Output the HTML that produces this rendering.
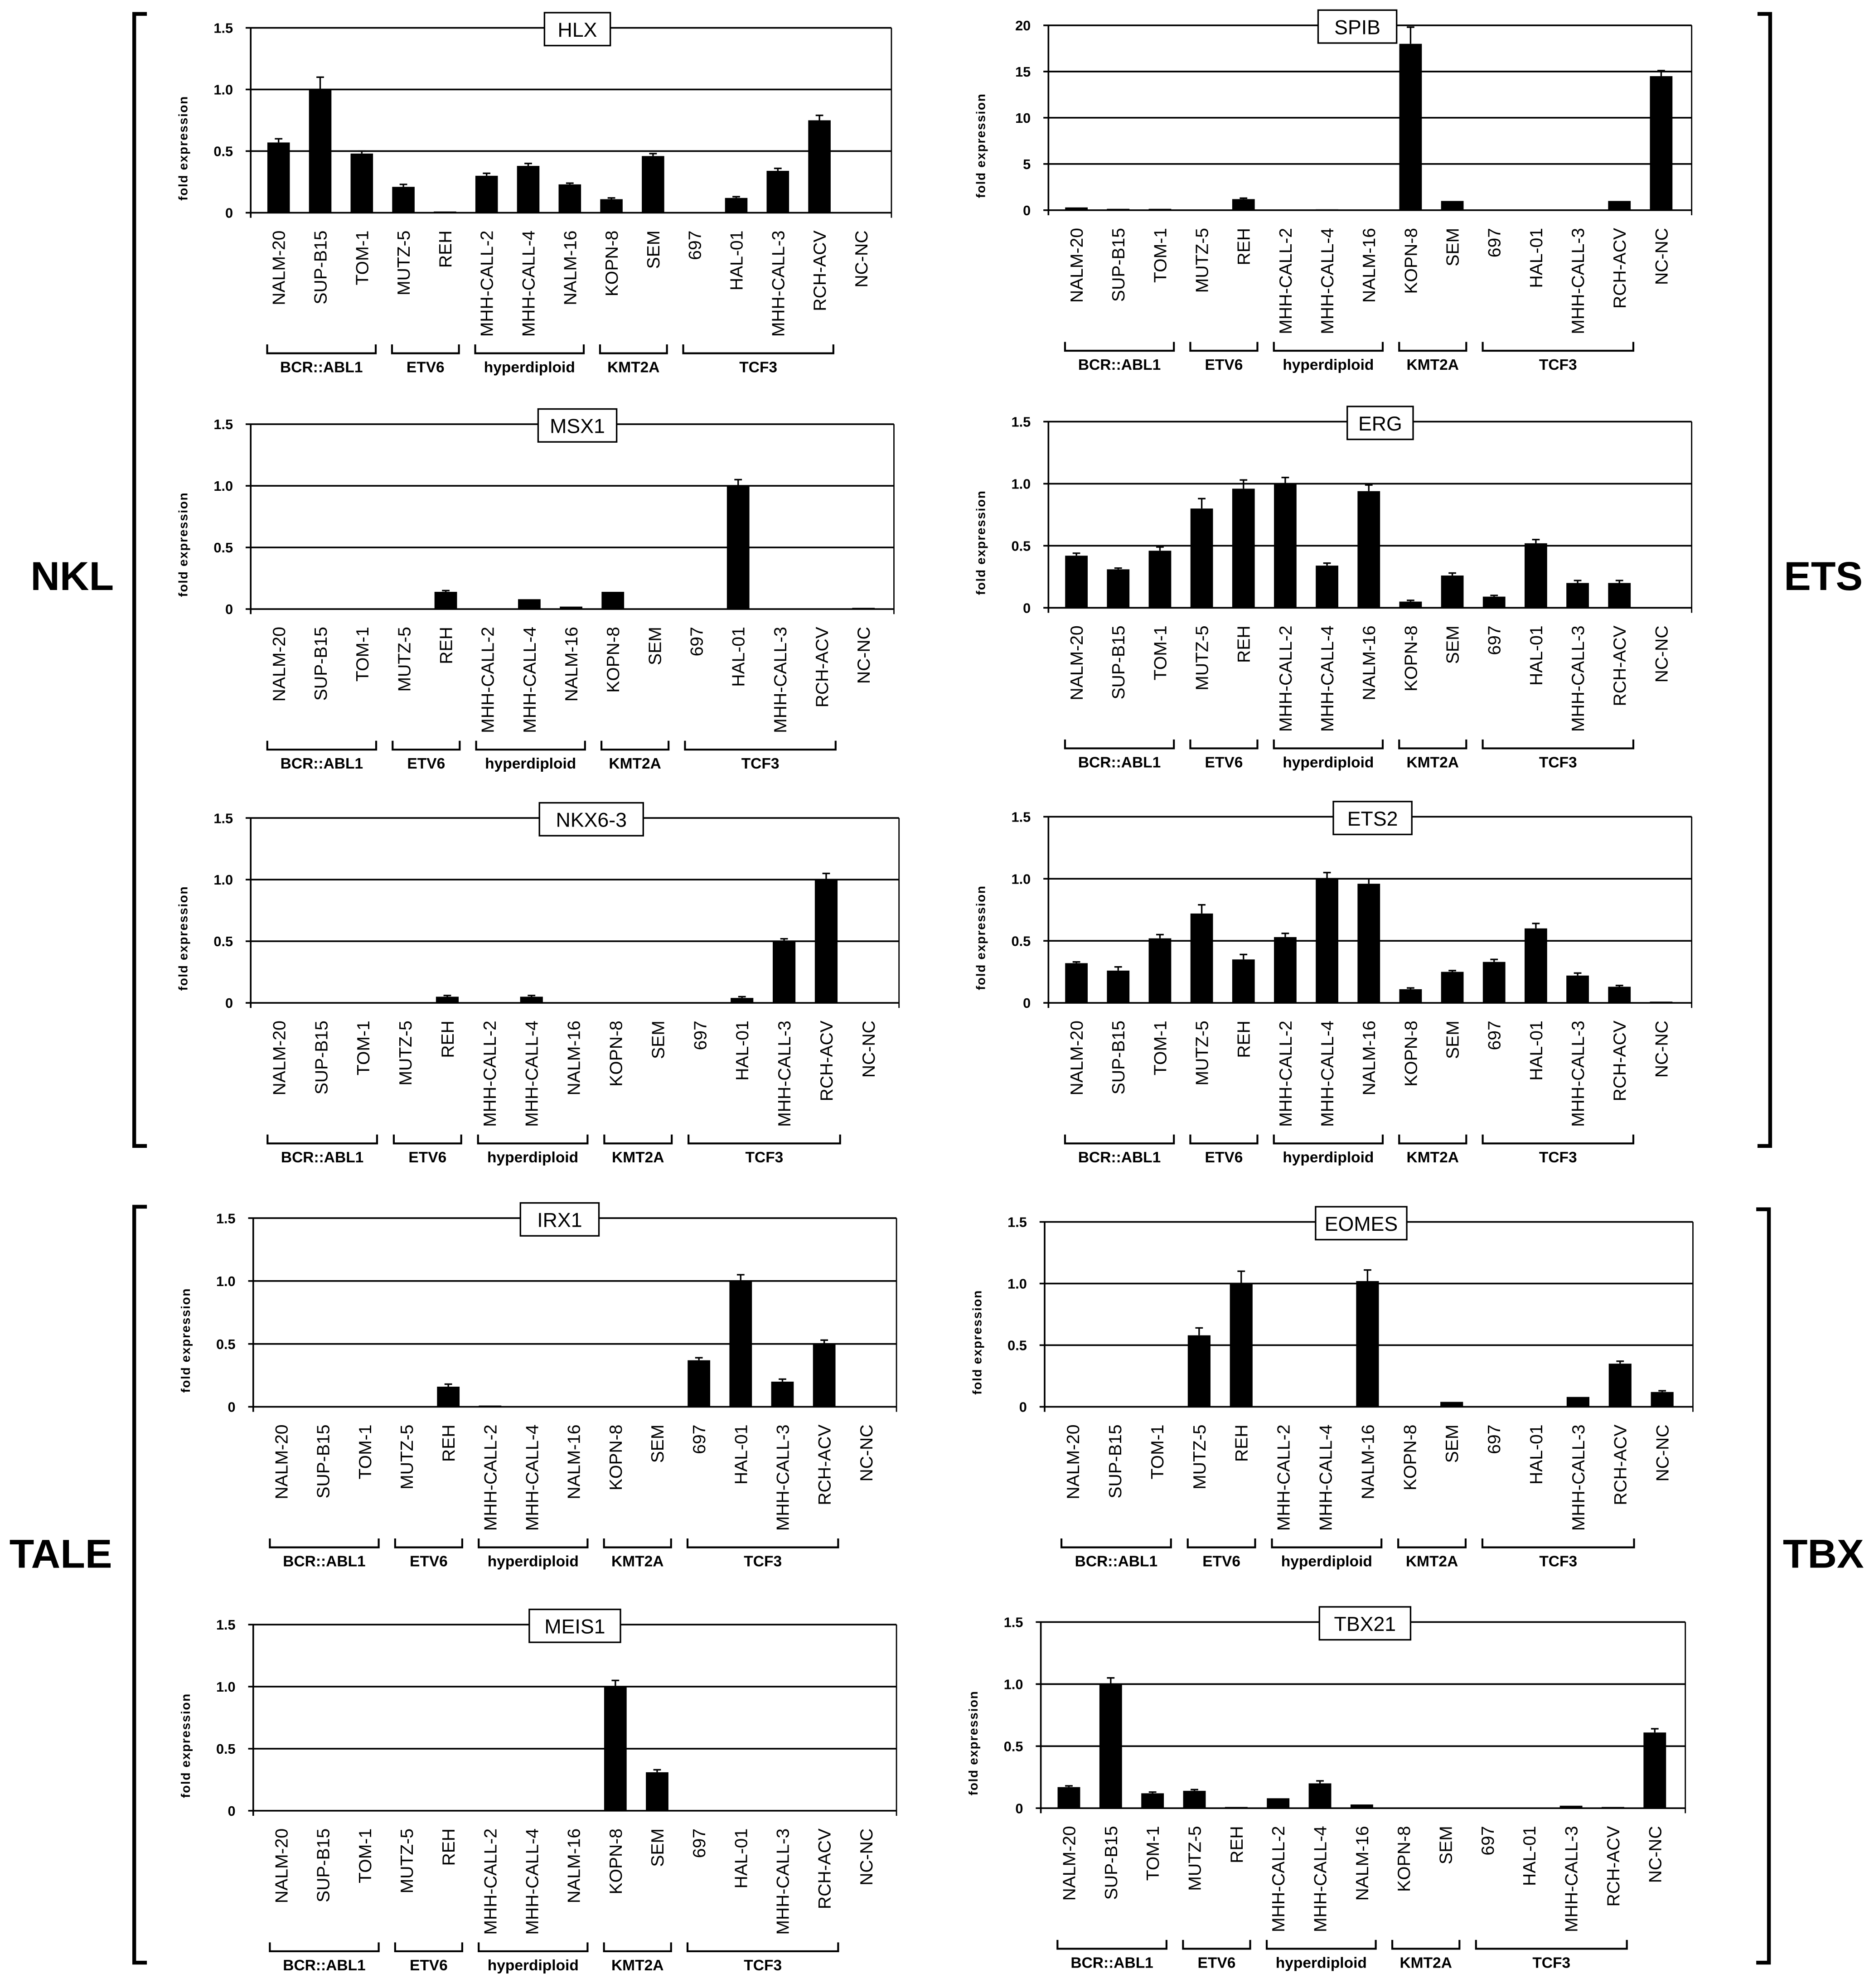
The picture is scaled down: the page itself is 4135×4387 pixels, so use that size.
<!DOCTYPE html>
<html><head><meta charset="utf-8"><style>
html,body{margin:0;padding:0;background:#fff}
svg{display:block}
</style></head><body>
<svg id="fig" xmlns="http://www.w3.org/2000/svg" width="4135" height="4387" viewBox="0 0 1480 1570" preserveAspectRatio="none" font-family="Liberation Sans, sans-serif">
<rect x="0" y="0" width="1480" height="1570" fill="#fff"/>
<g stroke="#000" stroke-width="3" fill="none"><path d="M116,11 H106 V905 H116"/></g>
<text x="57" y="466" font-size="32" font-weight="bold" text-anchor="middle">NKL</text>
<g stroke="#000" stroke-width="3" fill="none"><path d="M1388,11 H1398 V905 H1388"/></g>
<text x="1440" y="466" font-size="32" font-weight="bold" text-anchor="middle">ETS</text>
<g stroke="#000" stroke-width="3" fill="none"><path d="M116,953 H106 V1550 H116"/></g>
<text x="48" y="1238" font-size="32" font-weight="bold" text-anchor="middle">TALE</text>
<g stroke="#000" stroke-width="3" fill="none"><path d="M1387,955 H1397 V1550 H1387"/></g>
<text x="1440" y="1238" font-size="32" font-weight="bold" text-anchor="middle">TBX</text>
</svg>
<script>
const categories = ["NALM-20","SUP-B15","TOM-1","MUTZ-5","REH","MHH-CALL-2","MHH-CALL-4","NALM-16","KOPN-8","SEM","697","HAL-01","MHH-CALL-3","RCH-ACV","NC-NC"];
const groupNames = ["BCR::ABL1","ETV6","hyperdiploid","KMT2A","TCF3"];
const groupStart = [0,3,5,8,10];
const groupEnd = [2,4,7,9,13];
const ticksStd = [0,0.5,1.0,1.5];
const tickLabelsStd = ["0","0.5","1.0","1.5"];
const ticksSpib = [0,5,10,15,20];
const tickLabelsSpib = ["0","5","10","15","20"];

const hlxValues = [0.57,1.0,0.48,0.21,0.01,0.30,0.38,0.23,0.11,0.46,0,0.12,0.34,0.75,0];
const hlxErrors = [0.03,0.10,0.02,0.02,0,0.02,0.02,0.01,0.01,0.02,0,0.01,0.02,0.04,0];
const spibValues = [0.3,0.15,0.15,0,1.2,0,0.1,0,18,1.0,0,0,0,1.0,14.5];
const spibErrors = [0,0,0,0,0.1,0,0,0,1.8,0,0,0,0,0,0.6];
const msx1Values = [0,0,0,0,0.14,0,0.08,0.02,0.14,0,0,1.0,0,0,0.01];
const msx1Errors = [0,0,0,0,0.01,0,0,0,0,0,0,0.05,0,0,0];
const ergValues = [0.42,0.31,0.46,0.80,0.96,1.0,0.34,0.94,0.05,0.26,0.09,0.52,0.20,0.20,0];
const ergErrors = [0.02,0.01,0.03,0.08,0.07,0.05,0.02,0.05,0.01,0.02,0.01,0.03,0.02,0.02,0];
const nkx63Values = [0,0,0,0,0.05,0,0.05,0,0,0,0,0.04,0.50,1.0,0];
const nkx63Errors = [0,0,0,0,0.01,0,0.01,0,0,0,0,0.01,0.02,0.05,0];
const ets2Values = [0.32,0.26,0.52,0.72,0.35,0.53,1.0,0.96,0.11,0.25,0.33,0.60,0.22,0.13,0.01];
const ets2Errors = [0.01,0.03,0.03,0.07,0.04,0.03,0.05,0.04,0.01,0.01,0.02,0.04,0.02,0.01,0];
const irx1Values = [0,0,0,0,0.16,0.01,0,0,0,0,0.37,1.0,0.20,0.50,0];
const irx1Errors = [0,0,0,0,0.02,0,0,0,0,0,0.02,0.05,0.02,0.03,0];
const eomesValues = [0,0,0,0.58,1.0,0,0,1.02,0,0.04,0,0,0.08,0.35,0.12];
const eomesErrors = [0,0,0,0.06,0.10,0,0,0.09,0,0,0,0,0,0.02,0.01];
const meis1Values = [0,0,0,0,0,0,0,0,1.0,0.31,0,0,0,0,0];
const meis1Errors = [0,0,0,0,0,0,0,0,0.05,0.02,0,0,0,0,0];
const tbx21Values = [0.17,1.0,0.12,0.14,0.01,0.08,0.20,0.03,0,0,0,0,0.02,0.01,0.61];
const tbx21Errors = [0.01,0.05,0.01,0.01,0,0,0.02,0,0,0,0,0,0,0,0.03];

const NS = "http://www.w3.org/2000/svg";
const svg = document.getElementById('fig');
function mk(tag, attrs, parent){
  const e = document.createElementNS(NS, tag);
  for (const k in attrs) e.setAttribute(k, attrs[k]);
  parent.appendChild(e);
  return e;
}
const panels = [
  {name:"HLX", id:"hlx", v:hlxValues, e:hlxErrors, L:198, R:704, T:22, Z:168, tc:456, max:1.5, ticks:ticksStd, tl:tickLabelsStd},
  {name:"SPIB", id:"spib", v:spibValues, e:spibErrors, L:828, R:1336, T:20, Z:166, tc:1072, max:20, ticks:ticksSpib, tl:tickLabelsSpib},
  {name:"MSX1", id:"msx1", v:msx1Values, e:msx1Errors, L:198, R:706, T:335, Z:481, tc:456, max:1.5, ticks:ticksStd, tl:tickLabelsStd},
  {name:"ERG", id:"erg", v:ergValues, e:ergErrors, L:828, R:1336, T:333, Z:480, tc:1090, max:1.5, ticks:ticksStd, tl:tickLabelsStd},
  {name:"NKX6-3", id:"nkx6-3", v:nkx63Values, e:nkx63Errors, L:198, R:710, T:646, Z:792, tc:467, max:1.5, ticks:ticksStd, tl:tickLabelsStd},
  {name:"ETS2", id:"ets2", v:ets2Values, e:ets2Errors, L:828, R:1336, T:645, Z:792, tc:1084, max:1.5, ticks:ticksStd, tl:tickLabelsStd},
  {name:"IRX1", id:"irx1", v:irx1Values, e:irx1Errors, L:200, R:708, T:962, Z:1111, tc:442, max:1.5, ticks:ticksStd, tl:tickLabelsStd},
  {name:"EOMES", id:"eomes", v:eomesValues, e:eomesErrors, L:825, R:1337, T:965, Z:1111, tc:1075, max:1.5, ticks:ticksStd, tl:tickLabelsStd},
  {name:"MEIS1", id:"meis1", v:meis1Values, e:meis1Errors, L:200, R:708, T:1283, Z:1430, tc:454, max:1.5, ticks:ticksStd, tl:tickLabelsStd},
  {name:"TBX21", id:"tbx21", v:tbx21Values, e:tbx21Errors, L:822, R:1331, T:1281, Z:1428, tc:1078, max:1.5, ticks:ticksStd, tl:tickLabelsStd}
];
panels.forEach(p => {
  const g = mk('g', {}, svg);
  
  
  const n = categories.length;
  const slot = (p.R - p.L) / (n + 0.4);
  const x = i => p.L + slot * (i + 0.67);
  const y = v => p.Z - (v / p.max) * (p.Z - p.T);
  p.ticks.forEach((t, k) => {
    const gl = mk('line', {x1:p.L-4, x2:p.R, y1:y(t), y2:y(t), stroke:'#000', 'stroke-width':1.3}, g);
    
    
    const tx = mk('text', {x:p.L-14, y:y(t)+4, 'font-size':11, 'font-weight':'bold', 'text-anchor':'end', 'font-family':'Liberation Sans Narrow, Liberation Sans, sans-serif'}, g);
    
    
    tx.textContent = p.tl[k];
  });
  const ax = mk('line', {x1:p.L, x2:p.L, y1:p.T, y2:p.Z+4, stroke:'#000', 'stroke-width':1.3}, g);
  
  
  const rb = mk('line', {x1:p.R, x2:p.R, y1:p.T, y2:p.Z+4, stroke:'#000', 'stroke-width':1}, g);
  
  
  const yt = mk('text', {x:0, y:0, 'font-size':10, 'font-weight':'bold', 'text-anchor':'middle', 'letter-spacing':'0.6', transform:`translate(${p.L-50},${(p.T+p.Z)/2+22}) rotate(-90)`}, g);
  
  
  yt.textContent = 'fold expression';
  const bw = slot * 0.54;
  p.v.forEach((v, i) => {
    if (v > 0) {
      const b = mk('rect', {x:x(i)-bw/2, y:y(v), width:bw, height:Math.max(p.Z - y(v), 1.2), fill:'#000'}, g);
      
      
    }
    const er = p.e[i];
    if (er > 0) {
      const eb = mk('path', {d:`M${x(i)},${y(v)} V${y(v+er)} M${x(i)-3},${y(v+er)} H${x(i)+3}`, stroke:'#000', 'stroke-width':1.2, fill:'none'}, g);
      
      
    }
    const lb = mk('text', {x:0, y:0, 'font-size':14, 'text-anchor':'end', transform:`translate(${x(i)+5},${p.Z+14}) rotate(-90)`}, g);
    
    
    lb.textContent = categories[i];
  });
  groupNames.forEach((gn, k) => {
    const x1 = x(groupStart[k]) - 9, x2 = x(groupEnd[k]) + 11;
    const br = mk('path', {d:`M${x1},${p.Z+104} V${p.Z+111} H${x2} V${p.Z+104}`, stroke:'#000', 'stroke-width':1.5, fill:'none'}, g);
    
    
    const gt = mk('text', {x:(x1+x2)/2, y:p.Z+126, 'font-size':12, 'font-weight':'bold', 'text-anchor':'middle', 'font-family':'Liberation Sans Narrow, Liberation Sans, sans-serif'}, g);
    
    
    gt.textContent = gn;
  });
  const tw = p.name.length * 10 + 22;
  const tb = mk('rect', {x:p.tc - tw/2, y:p.T-12, width:tw, height:26, fill:'#fff', stroke:'#000', 'stroke-width':1.2}, g);
  
  
  const tt = mk('text', {x:p.tc, y:p.T+7, 'font-size':16, 'text-anchor':'middle'}, g);
  
  
  tt.textContent = p.name;
});
</script>
</body></html>
